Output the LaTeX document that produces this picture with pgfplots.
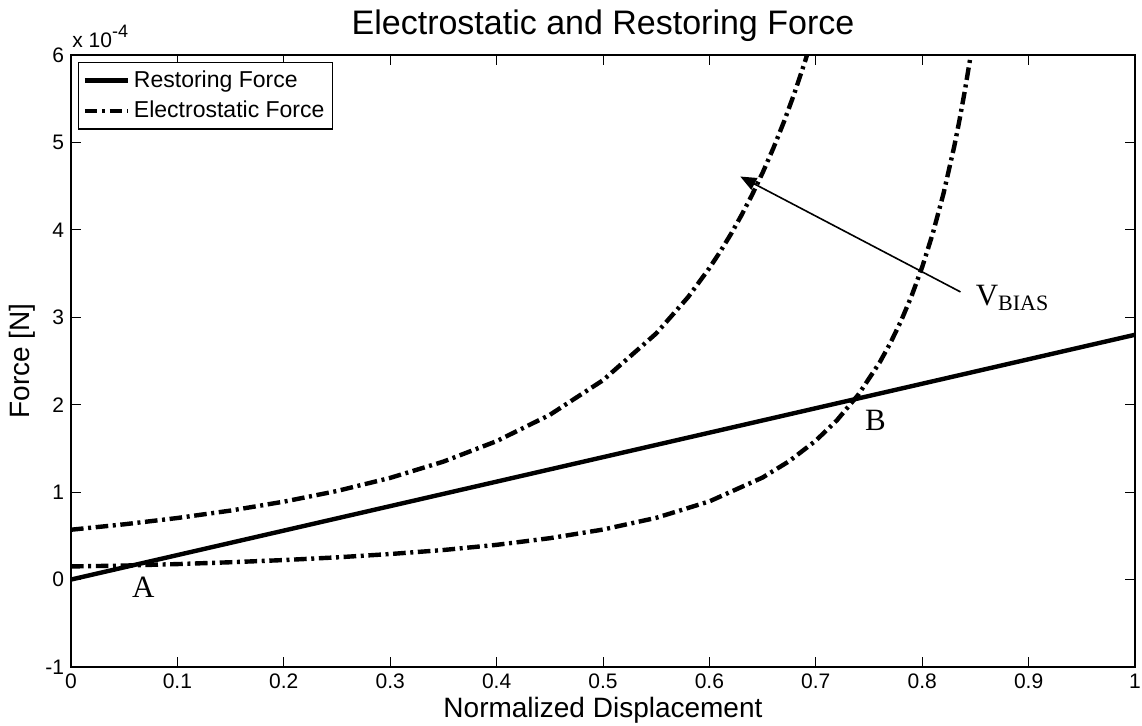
\documentclass[border=0pt]{standalone}
\usepackage{pgfplots}
\pgfplotsset{compat=1.18}
\usepackage{fontspec}
\setmainfont{Liberation Sans}
\newfontfamily\timesfont{Liberation Serif}
\usetikzlibrary{arrows.meta}

% force values in units of 1e-4 N
\pgfplotstableread{
x y
0.00 0.570
0.05 0.632
0.10 0.704
0.15 0.789
0.20 0.891
0.25 1.013
0.30 1.163
0.35 1.349
0.40 1.583
0.45 1.884
0.50 2.280
0.55 2.815
0.58 3.231
0.60 3.563
0.61 3.748
0.62 3.947
0.63 4.164
0.64 4.398
0.65 4.653
0.66 4.931
0.67 5.234
0.68 5.566
0.69 5.931
0.70 6.333
}\highbias

\pgfplotstableread{
x y
0.000 0.150
0.050 0.160
0.100 0.177
0.150 0.198
0.200 0.223
0.250 0.254
0.300 0.292
0.350 0.338
0.400 0.397
0.450 0.473
0.500 0.572
0.550 0.706
0.600 0.894
0.650 1.167
0.675 1.354
0.700 1.589
0.720 1.824
0.740 2.115
0.760 2.483
0.770 2.703
0.780 2.955
0.790 3.243
0.800 3.575
0.810 3.961
0.820 4.414
0.830 4.948
0.835 5.253
0.840 5.586
0.845 5.952
0.850 6.356
}\lowbias

\tikzset{dashdot/.style={dash pattern=on 6.3pt off 2.3pt on 1.5pt off 2.3pt}}

\begin{document}
\begin{tikzpicture}
\begin{axis}[
  at={(35.5pt,29.5pt)}, anchor=south west,
  scale only axis,
  width=532pt, height=306pt,
  xmin=0, xmax=1, ymin=-1, ymax=6,
  xtick={0,0.1,...,1.0},
  xticklabels={0,0.1,0.2,0.3,0.4,0.5,0.6,0.7,0.8,0.9,1},
  ytick={-1,0,...,6},
  yticklabels={-1,0,1,2,3,4,5,6},
  tick align=inside,
  major tick length=5pt,
  xtick pos=both, ytick pos=both,
  xticklabel pos=lower, yticklabel pos=left,
  tick label style={font=\fontsize{10.5}{12}\selectfont},
  axis line style={line width=0.6pt},
  tick style={line width=0.5pt, black},
  title={Electrostatic and Restoring Force},
  title style={font=\fontsize{17}{20}\selectfont, at={(axis description cs:0.5,1)}, anchor=base, yshift=4pt},
  xlabel={Normalized Displacement},
  xlabel style={font=\fontsize{14}{16}\selectfont, at={(axis description cs:0.5,0)}, anchor=base, yshift=-25.5pt},
  ylabel={Force [N]},
  ylabel style={font=\fontsize{14}{16}\selectfont, at={(axis description cs:-0.046,0.5)}, anchor=center},
  legend style={at={(axis description cs:0,1)}, anchor=north west, xshift=3.5pt, yshift=-3.5pt,
    font=\fontsize{11.5}{13}\selectfont, draw=black, line width=0.6pt, fill=white,
    inner xsep=2pt, inner ysep=2pt, row sep=1.5pt, cells={anchor=west}},
  legend image code/.code={\draw[#1] (0pt,0pt) -- (21.5pt,0pt);},
  clip=true,
]
\addplot[black, line width=2.2pt] coordinates {(0,0) (1,2.8)};
\addlegendentry{Restoring Force}
\addplot[black, line width=2.2pt, dashdot] table[x=x,y=y] {\highbias};
\addlegendentry{Electrostatic Force}
\addplot[black, line width=2.2pt, dashdot, forget plot] table[x=x,y=y] {\lowbias};

% bias arrow and point labels
\draw[line width=0.8pt, -{Triangle[length=8pt,width=6.5pt]}] (axis cs:0.836,3.29) -- (axis cs:0.629,4.61);
\node[anchor=base west, inner sep=0pt, font=\timesfont\fontsize{15.5}{18}\selectfont] at (axis cs:0.057,-0.21) {A};
\node[anchor=base west, inner sep=0pt, font=\timesfont\fontsize{15.5}{18}\selectfont] at (axis cs:0.746,1.71) {B};
\node[anchor=base west, inner sep=0pt, font=\timesfont\fontsize{15.5}{18}\selectfont] at (axis cs:0.850,3.14) {V\raisebox{-2.5pt}{\fontsize{11}{13}\selectfont BIAS}};
\end{axis}
% exponent of the y axis
\node[anchor=base west, inner sep=0pt, font=\fontsize{10.5}{12}\selectfont] at (36pt,339pt) {x 10\raisebox{5pt}{\fontsize{9}{10}\selectfont -4}};
\pgfresetboundingbox
\useasboundingbox (0,0) rectangle (571pt,363pt);
\end{tikzpicture}
\end{document}
